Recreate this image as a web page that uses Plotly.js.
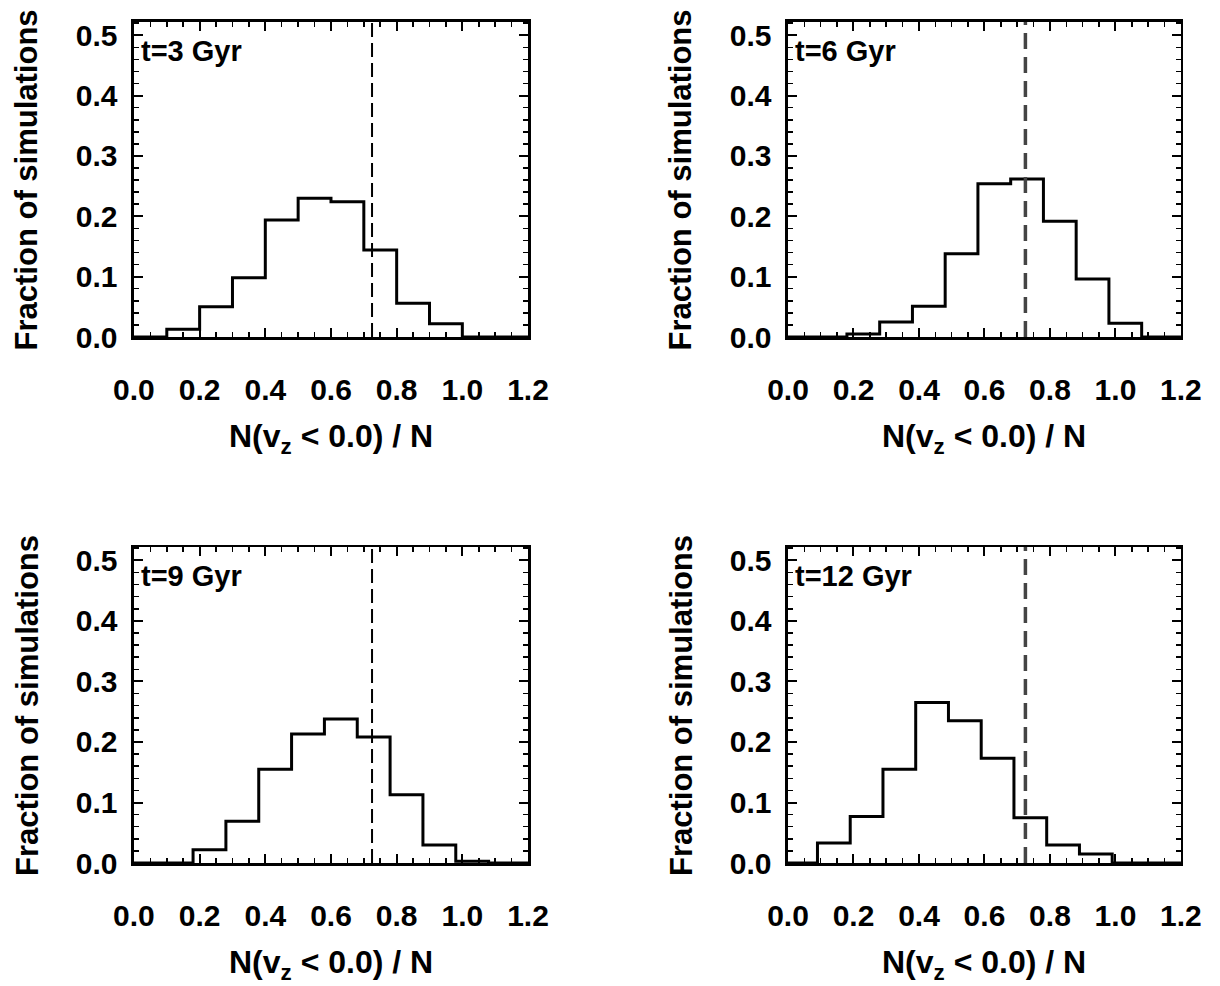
<!DOCTYPE html>
<html>
<head>
<meta charset="utf-8">
<script src="https://cdn.plot.ly/plotly-3.0.1.min.js"></script>
<style>
  html, body { margin: 0; padding: 0; background: #fff; }
  #chart { width: 1220px; height: 986px; }
</style>
</head>
<body>
<div id="chart"></div>
<script>
// Histogram bins: width and left edge of the first non-empty bin per panel
const binWidth = 0.1;
const binStart = [0.10, 0.18, 0.18, 0.09];

// Fraction of simulations per bin of N(vz < 0)/N
const frac3Gyr  = [0.013, 0.050, 0.098, 0.194, 0.230, 0.224, 0.144, 0.056, 0.022];
const frac6Gyr  = [0.005, 0.025, 0.051, 0.138, 0.254, 0.262, 0.192, 0.096, 0.023];
const frac9Gyr  = [0.022, 0.069, 0.155, 0.213, 0.238, 0.208, 0.113, 0.030, 0.003];
const frac12Gyr = [0.033, 0.077, 0.155, 0.265, 0.235, 0.173, 0.075, 0.030, 0.015];

const panelLabels = ["t=3 Gyr", "t=6 Gyr", "t=9 Gyr", "t=12 Gyr"];

// Observed fraction, drawn as the dashed vertical line
const observedFraction = 0.725;

const xRange = [0, 1.2];
const yRange = [0, 0.522];

const FONT = "Liberation Sans, Arial, sans-serif";
const fractions = [frac3Gyr, frac6Gyr, frac9Gyr, frac12Gyr];

// Panel geometry (paper fractions)
const colDomains = [[0.1098, 0.4328], [0.6459, 0.9680]];
const rowDomains = [[0.6582, 0.9777], [0.1247, 0.4452]];
const dashStyles = [
  { dash: "14px,6px", width: 2, color: "#000" },
  { dash: "16px,8px", width: 3.5, color: "#444" },
  { dash: "14px,6px", width: 2, color: "#000" },
  { dash: "16px,8px", width: 3.5, color: "#444" }
];

// Build a step outline (hv) from bin fractions
function stepLine(start, vals) {
  const xs = [xRange[0], start];
  const ys = [0, vals[0]];
  for (let i = 1; i < vals.length; i++) {
    xs.push(start + i * binWidth);
    ys.push(vals[i]);
  }
  xs.push(start + vals.length * binWidth, xRange[1]);
  ys.push(0, 0);
  return { xs, ys };
}

function axisCommon() {
  return {
    showline: true, linewidth: 2.5, linecolor: "#000", mirror: "ticks",
    ticks: "inside", ticklen: 9, tickwidth: 2, tickcolor: "#000",
    showgrid: false, zeroline: false, fixedrange: true,
    tickfont: { family: FONT, size: 30, color: "#000", weight: "bold" },
    tickformat: ".1f"
  };
}

const data = [];
const layout = {
  width: 1220, height: 986,
  margin: { l: 0, r: 0, t: 0, b: 0 },
  paper_bgcolor: "#fff", plot_bgcolor: "#fff",
  showlegend: false,
  annotations: []
};

for (let p = 0; p < 4; p++) {
  const col = p % 2, row = Math.floor(p / 2);
  const n = p + 1;
  const xa = n === 1 ? "x" : "x" + n;
  const ya = n === 1 ? "y" : "y" + n;
  const xKey = n === 1 ? "xaxis" : "xaxis" + n;
  const yKey = n === 1 ? "yaxis" : "yaxis" + n;

  const s = stepLine(binStart[p], fractions[p]);
  data.push({
    type: "scatter", mode: "lines", x: s.xs, y: s.ys,
    xaxis: xa, yaxis: ya,
    line: { shape: "hv", color: "#000", width: 3 },
    hoverinfo: "skip"
  });
  data.push({
    type: "scatter", mode: "lines",
    x: [observedFraction, observedFraction], y: [yRange[0], yRange[1]],
    xaxis: xa, yaxis: ya,
    line: dashStyles[p],
    hoverinfo: "skip"
  });

  layout[xKey] = Object.assign(axisCommon(), {
    domain: colDomains[col], anchor: ya,
    range: xRange, dtick: 0.2, tick0: 0,
    ticklabelstandoff: 24,
    minor: { dtick: 0.05, ticks: "inside", ticklen: 5, tickwidth: 1.5, tickcolor: "#000", showgrid: false }
  });
  layout[yKey] = Object.assign(axisCommon(), {
    domain: rowDomains[row], anchor: xa,
    range: yRange, dtick: 0.1, tick0: 0,
    ticklabelstandoff: 8,
    minor: { dtick: 0.02, ticks: "inside", ticklen: 5, tickwidth: 1.5, tickcolor: "#000", showgrid: false }
  });

  const dx = colDomains[col], dy = rowDomains[row];
  // time label in the upper-left corner of the frame
  layout.annotations.push({
    xref: "paper", yref: "paper",
    x: dx[0] + 5 / 1220, y: dy[1] - 29 / 986,
    xanchor: "left", yanchor: "middle", showarrow: false,
    text: panelLabels[p],
    font: { family: FONT, size: 29, color: "#000", weight: "bold" }
  });
  // x-axis title
  layout.annotations.push({
    xref: "paper", yref: "paper",
    x: (dx[0] + dx[1]) / 2, y: dy[0] - 101 / 986,
    xanchor: "center", yanchor: "middle", showarrow: false,
    text: "N(v<sub>z</sub> &lt; 0.0) / N",
    font: { family: FONT, size: 32, color: "#000", weight: "bold" }
  });
  // y-axis title
  layout.annotations.push({
    xref: "paper", yref: "paper",
    x: dx[0] - 107 / 1220, y: (dy[0] + dy[1]) / 2,
    xanchor: "center", yanchor: "middle", showarrow: false,
    textangle: -90,
    text: "Fraction of simulations",
    font: { family: FONT, size: 31, color: "#000", weight: "bold" }
  });
}

Plotly.newPlot("chart", data, layout, { staticPlot: true, displayModeBar: false });
</script>
</body>
</html>
